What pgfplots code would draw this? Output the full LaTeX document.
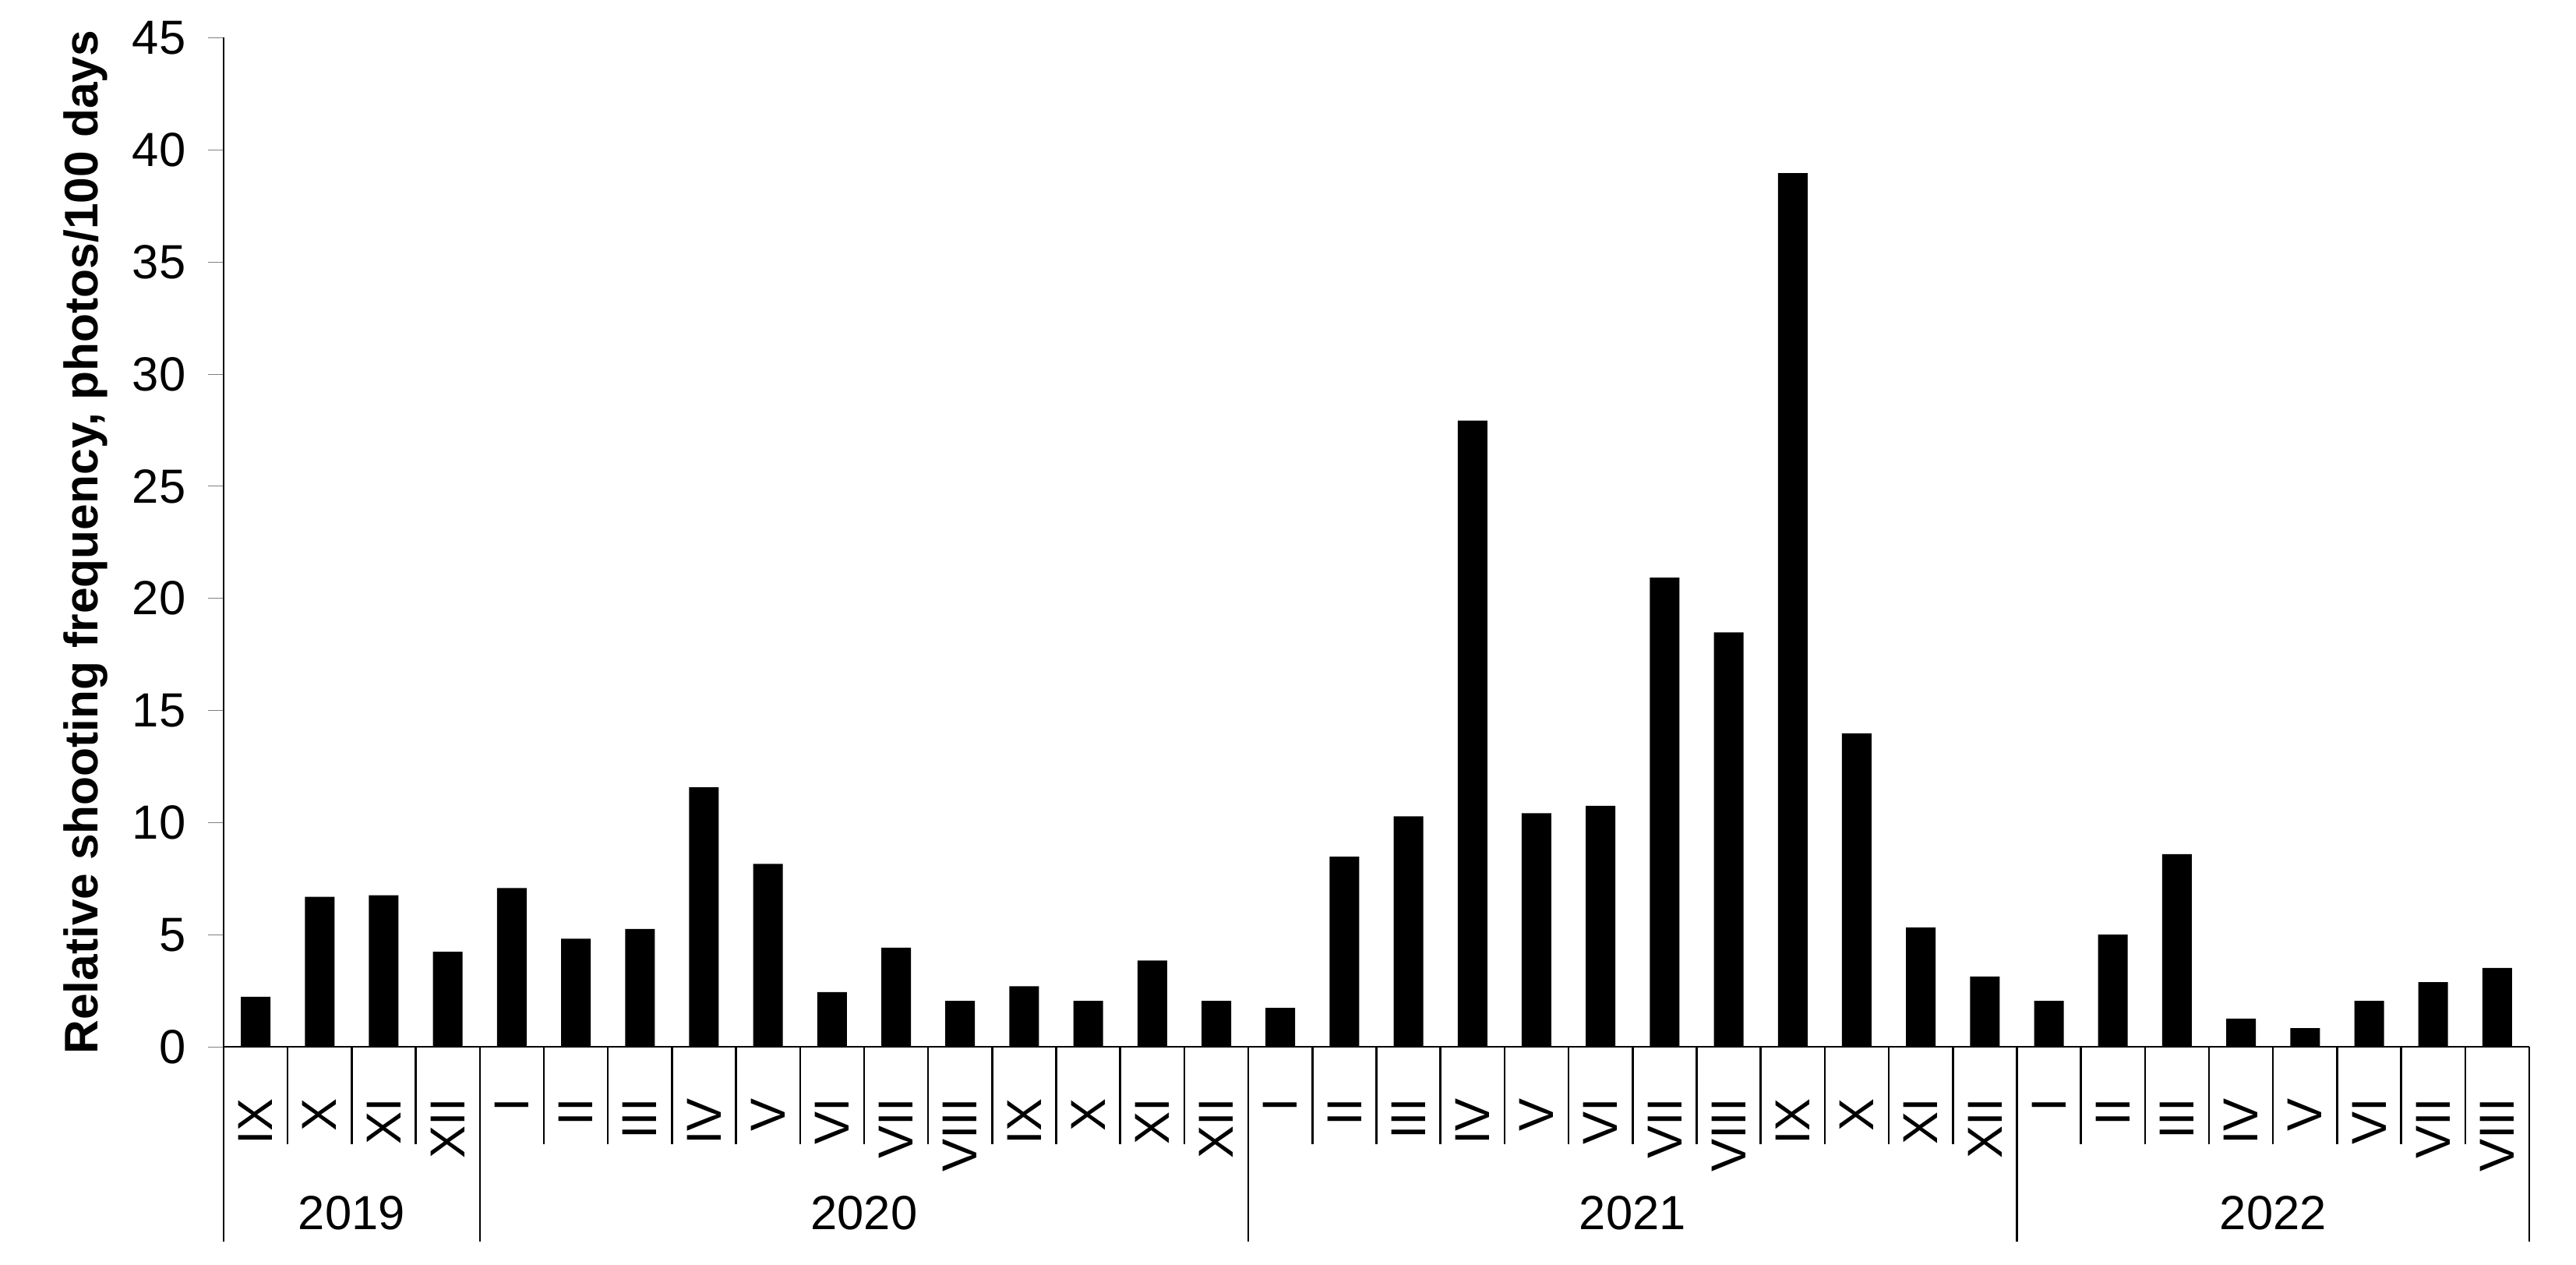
\documentclass[border=0pt]{standalone}
\usepackage{pgfplots}
\pgfplotsset{compat=1.18}
\usepackage{fontspec}
\setmainfont{Liberation Sans}
\newcommand\f{\fontsize{12.3pt}{14pt}\selectfont}
\newcommand\fm{\fontsize{12.6pt}{14pt}\selectfont}
\newcommand\fl{\fontsize{12.1pt}{14pt}\selectfont}
\begin{document}
\begin{tikzpicture}
\begin{axis}[
  scale only axis,
  width=591.8pt, height=258.9pt,
  xmin=-0.5, xmax=35.5, ymin=0, ymax=45,
  axis x line*=bottom, axis y line*=left,
  ytick={0,5,...,45},
  tick align=outside,
  major tick length=4pt,
  xtick={0,...,35},
  xticklabels={IX,X,XI,XII,I,II,III,IV,V,VI,VII,VIII,IX,X,XI,XII,I,II,III,IV,V,VI,VII,VIII,IX,X,XI,XII,I,II,III,IV,V,VI,VII,VIII},
  x tick style={draw=none},
  xticklabel style={rotate=90, anchor=east, inner sep=0pt, font=\fm},
  xticklabel shift=9pt,
  yticklabel style={font=\f, xshift=-2.2pt},
  /pgf/number format/assume math mode=true,
  ylabel={\bfseries Relative shooting frequency, photos/100 days},
  every axis y label/.style={at={(rel axis cs:0,0.5)}, xshift=-35.4pt, rotate=90, anchor=center, font=\fl},
  clip=false,
  axis line style={line width=0.5pt},
]
\addplot[ybar, bar width=7.6pt, fill=black, draw=none] coordinates {
(0,2.23) (1,6.69) (2,6.76) (3,4.24)
(4,7.08) (5,4.82) (6,5.25) (7,11.57) (8,8.16) (9,2.44) (10,4.42) (11,2.05) (12,2.70) (13,2.05) (14,3.85) (15,2.05)
(16,1.73) (17,8.48) (18,10.28) (19,27.93) (20,10.42) (21,10.75) (22,20.92) (23,18.48) (24,38.96) (25,13.98) (26,5.32) (27,3.13)
(28,2.05) (29,5.0) (30,8.59) (31,1.26) (32,0.83) (33,2.05) (34,2.88) (35,3.52)
};
\pgfplotsinvokeforeach{0.5,1.5,...,34.5}{
  \draw[line width=0.5pt] (axis cs:#1,0) -- ([yshift=-25pt]axis cs:#1,0);
}
\pgfplotsinvokeforeach{-0.5,3.5,15.5,27.5,35.5}{
  \draw[line width=0.5pt] (axis cs:#1,0) -- ([yshift=-50pt]axis cs:#1,0);
}
\node[anchor=base, font=\f] at ([yshift=-46.8pt]axis cs:1.5,0) {2019};
\node[anchor=base, font=\f] at ([yshift=-46.8pt]axis cs:9.5,0) {2020};
\node[anchor=base, font=\f] at ([yshift=-46.8pt]axis cs:21.5,0) {2021};
\node[anchor=base, font=\f] at ([yshift=-46.8pt]axis cs:31.5,0) {2022};
\coordinate (O) at (rel axis cs:0,0);
\end{axis}
\pgfresetboundingbox
\path[use as bounding box] ([shift={(-57.4pt,-55.8pt)}]O) rectangle ([shift={(603.8pt,268.6pt)}]O);
\end{tikzpicture}
\end{document}
